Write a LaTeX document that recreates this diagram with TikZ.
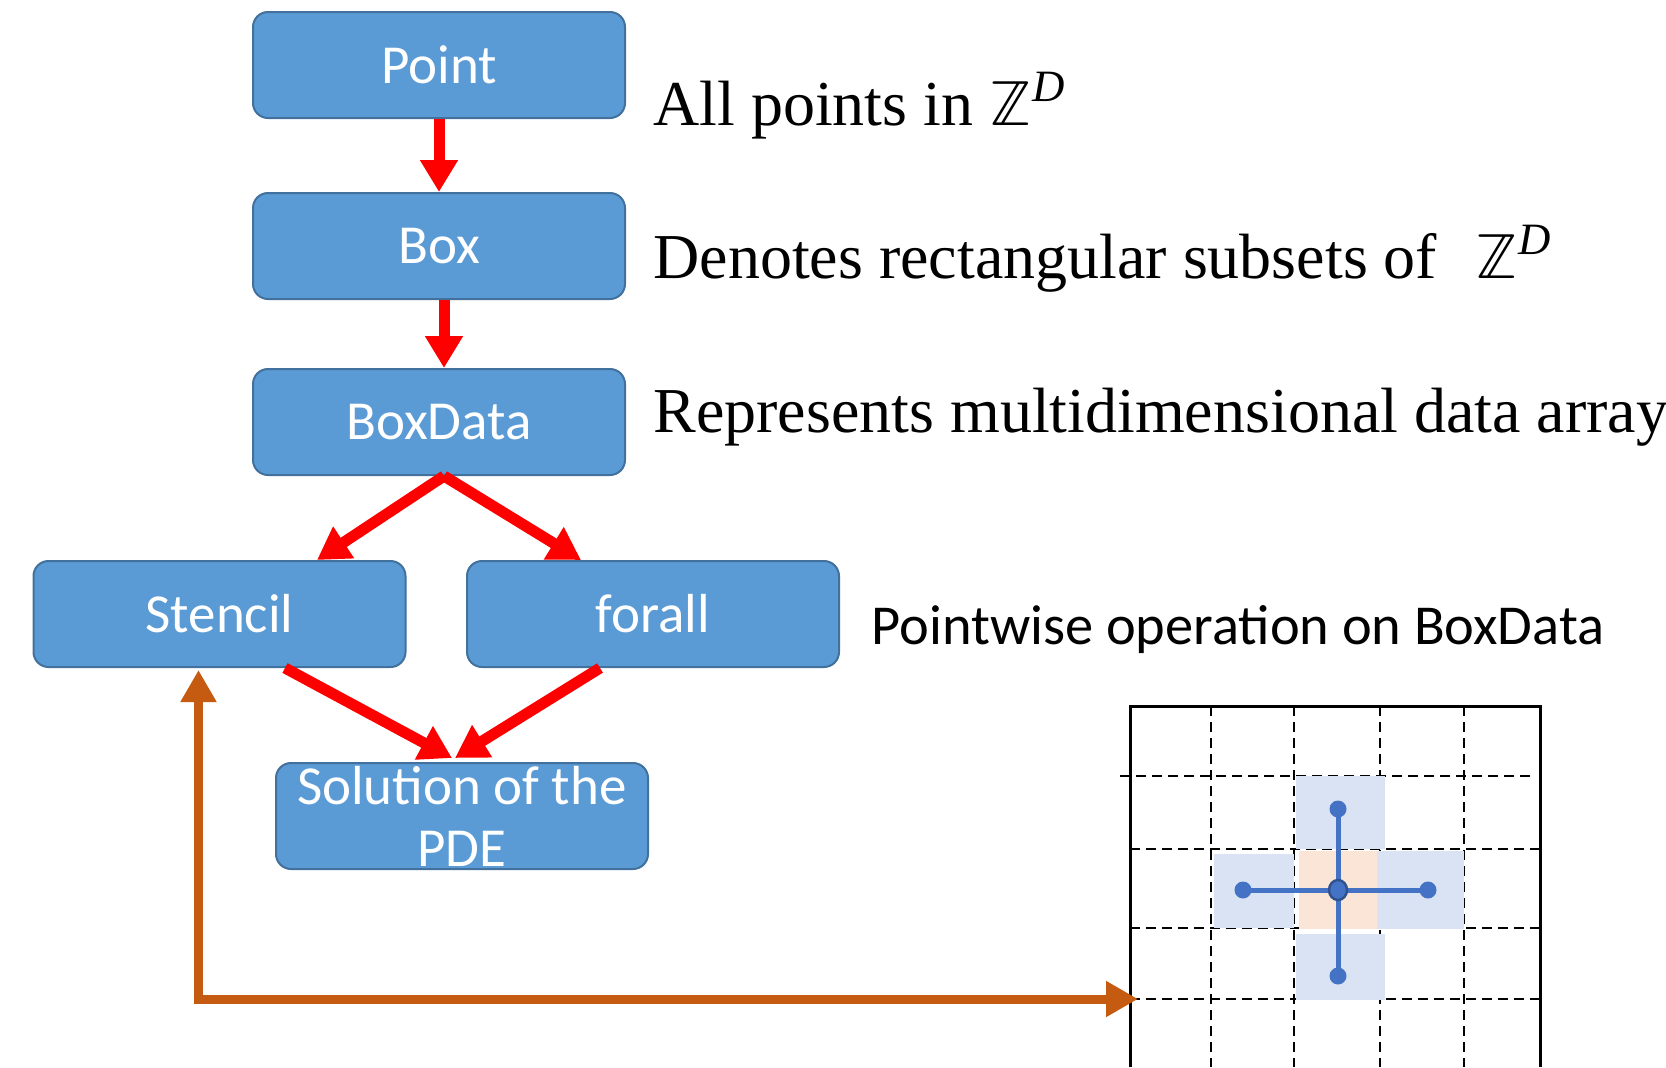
\documentclass[tikz,border=0pt]{standalone}
\usepackage{fontspec}
\usepackage{unicode-math}
\setmainfont{Liberation Serif}
\setmathfont{Latin Modern Math}
\newfontfamily\calfont{Carlito}
\usetikzlibrary{arrows.meta,positioning,calc}
\definecolor{boxblue}{HTML}{5B9BD5}
\definecolor{boxedge}{HTML}{41719C}
\definecolor{linkorange}{HTML}{C55A11}
\definecolor{stencilblue}{HTML}{4472C4}
\definecolor{stencildark}{HTML}{2F528F}
\definecolor{cellblue}{HTML}{DAE3F3}
\definecolor{cellpeach}{HTML}{FBE5D6}
\tikzset{
  blk/.style={draw=boxedge, line width=1pt, fill=boxblue, rounded corners=7.5pt, minimum width=186pt, minimum height=53pt, inner sep=0pt, text=white, align=center, font=\calfont\fontsize{27.5}{31}\selectfont},
  arr/.style={-{Triangle[length=16pt,width=18pt]}, line width=5.5pt, color=red},
  lnk/.style={{Triangle[length=16pt,width=17pt]}-{Triangle[length=16pt,width=17pt]}, line width=4.5pt, color=linkorange},
  note/.style={anchor=base west, inner sep=0pt, font=\fontsize{32}{38}\selectfont},
  cnote/.style={anchor=base west, inner sep=0pt, font=\calfont\fontsize{28.2}{34}\selectfont},
  gridln/.style={dash pattern=on 5pt off 3pt, line width=1pt},
  spoke/.style={stencilblue, line width=2.5pt},
}

\begin{document}
\begin{tikzpicture}[x=0.5pt, y=-0.5pt]
  \useasboundingbox (0,0) rectangle (1666,1067);

  % class hierarchy
  \node[blk] (point) at (439,65) {Point};
  \node[blk, below=36.5pt of point] (box) {Box};
  \node[blk, below=34pt of box] (data) {BoxData};
  \node[blk] (stencil) at (219.5,614) {Stencil};
  \node[blk] (forall) at (653,614) {forall};
  \node[blk] (pde) at (462,816) {Solution of the\\PDE};

  \draw[arr] (point.south) -- (box.north);
  \draw[arr] ($(box.south)+(5,0)$) -- ($(data.north)+(5,0)$);
  \draw[arr] ($(data.south)+(5,0)$) -- ($(stencil.north)+(97.5,0)$);
  \draw[arr] ($(data.south)+(5,0)$) -- ($(forall.north)+(-72,0)$);
  \draw[arr] ($(stencil.south)+(65.5,0)$) -- ($(pde.north)+(-10,-4)$);
  \draw[arr] ($(forall.south)+(-53,0)$) -- ($(pde.north)+(-7,-4)$);

  % descriptions
  \node[note] (n1) at (653,125) {All points in $\mathbb{Z}^{\textit{D}}$};
  \node[note] (n2) at (653,278) {Denotes rectangular subsets of\hspace{0.6em}$\mathbb{Z}^{\textit{D}}$};
  \node[note] (n3) at (653,432) {Represents multidimensional data array};
  \node[cnote] (n4) at (871,644) {Pointwise operation on BoxData};

  % mesh with the 5-point stencil
  \foreach \x in {1211,1294,1380,1464}
    \draw[gridln] (\x,706) -- (\x,1067);
  \draw[gridln] (1120,776) -- (1532,776);
  \foreach \y in {849,928,999}
    \draw[gridln] (1130,\y) -- (1540,\y);
  \draw[line width=1.5pt] (1130,1067) |- (1540,706) -- (1540,1067);

  \fill[cellblue] (1296,776) rectangle (1385,849);
  \fill[cellblue] (1214,854) rectangle (1294,928);
  \fill[cellblue] (1377,851) rectangle (1464,929);
  \fill[cellblue] (1296,934) rectangle (1385,1000);
  \fill[cellpeach] (1299,851) rectangle (1377,929);

  \draw[spoke] (1338,809) -- (1338,976);
  \draw[spoke] (1243,890) -- (1428,890);
  \foreach \p in {(1338,809),(1338,976),(1243,890),(1428,890)}
    \fill[stencilblue] \p circle (8.5);
  \draw[fill=stencilblue, draw=stencildark, line width=1.2pt] (1338,890) ellipse (9 and 10);

  % stencil acts on the mesh
  \coordinate (hook) at (1138,999);
  \draw[lnk] ($(stencil.south)+(-21,2)$) |- (hook);
\end{tikzpicture}
\end{document}
